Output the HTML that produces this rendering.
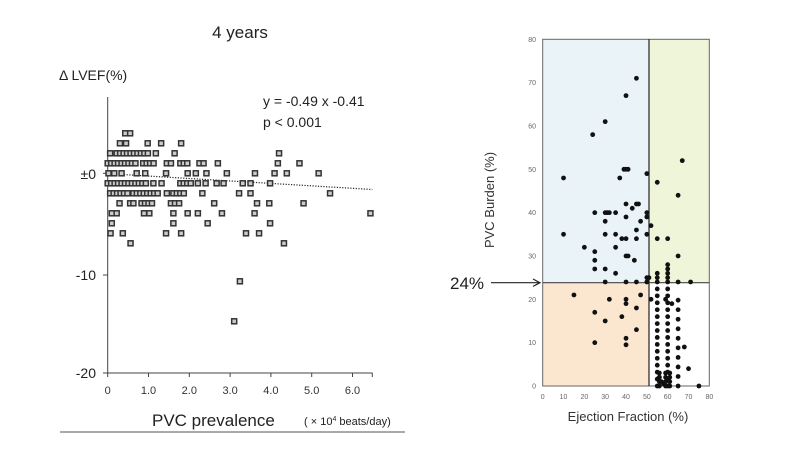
<!DOCTYPE html>
<html><head><meta charset="utf-8"><style>
body{margin:0;background:#fff;width:800px;height:450px;overflow:hidden;font-family:"Liberation Sans",sans-serif}
</style></head><body>
<svg id="s" width="800" height="450" xmlns="http://www.w3.org/2000/svg" font-family="Liberation Sans, sans-serif">
<text x="240" y="38" font-size="17" fill="#222" text-anchor="middle">4 years</text>
<text x="59" y="80" font-size="14" fill="#222">Δ LVEF(%)</text>
<text x="263" y="106" font-size="14" fill="#222">y = -0.49 x -0.41</text>
<text x="263" y="127" font-size="14" fill="#222">p &lt; 0.001</text>
<line x1="107.7" y1="97" x2="107.7" y2="373" stroke="#444" stroke-width="1"/>
<line x1="107.7" y1="373" x2="372.5" y2="373" stroke="#444" stroke-width="1"/>
<g stroke="#444"><line x1="103" y1="173.3" x2="107.7" y2="173.3"/><line x1="103" y1="275" x2="107.7" y2="275"/><line x1="103" y1="373" x2="107.7" y2="373"/></g>
<g font-size="14" fill="#222" text-anchor="end"><text x="96" y="179">±0</text><text x="96" y="280">-10</text><text x="96" y="378">-20</text></g>
<g id="xt" font-size="11" fill="#333" text-anchor="middle"></g>
<line x1="107.7" y1="173.6" x2="372.3" y2="189.5" stroke="#222" stroke-dasharray="1.2,1.5" stroke-width="1.2"/>
<g id="lp" fill="#ccc" stroke="#333" stroke-width="1.5"></g>
<text x="152" y="426" font-size="17" fill="#222">PVC prevalence</text>
<text x="304" y="425" font-size="11" fill="#222">( × 10<tspan font-size="7" dy="-4">4</tspan><tspan dy="4"> beats/day)</tspan></text>
<line x1="60" y1="432" x2="405" y2="432" stroke="#555"/>
<rect x="542.7" y="39.3" width="106.3" height="243.4" fill="#eaf4f8"/>
<rect x="649" y="39.3" width="60.3" height="243.4" fill="#eef5d8"/>
<rect x="542.7" y="282.7" width="106.3" height="103.3" fill="#fbe6d0"/>
<rect x="542.7" y="39.3" width="166.6" height="346.7" fill="none" stroke="#666" stroke-width="1"/>
<line x1="649" y1="39.3" x2="649" y2="386" stroke="#222" stroke-width="1.2"/>
<line x1="542.7" y1="282.7" x2="709.3" y2="282.7" stroke="#444" stroke-width="1.2"/>
<g id="rt" font-size="7" fill="#666"></g>
<g id="rp" fill="#111"></g>
<text transform="translate(494,200) rotate(-90)" font-size="13" fill="#333" text-anchor="middle">PVC Burden (%)</text>
<text x="628" y="421" font-size="13" fill="#333" text-anchor="middle">Ejection Fraction (%)</text>
<text x="450" y="289" font-size="17" fill="#222">24%</text>
<line x1="491" y1="282.7" x2="540" y2="282.7" stroke="#222" stroke-width="1.2"/>
<polyline points="533,279 540,282.7 533,286.4" fill="none" stroke="#222" stroke-width="1.2"/>
</svg>
<script>
const NS="http://www.w3.org/2000/svg";
function el(p,t,a,txt){const e=document.createElementNS(NS,t);for(const k in a)e.setAttribute(k,a[k]);if(txt!==undefined)e.textContent=txt;document.getElementById(p).appendChild(e);}
const xs=["0","1.0","2.0","3.0","4.0","5.0","6.0"];
for(let i=0;i<7;i++){const x=107.7+i*40.8;el("xt","text",{x:x,y:394},xs[i]);el("xt","line",{x1:x,y1:373,x2:x,y2:377,stroke:"#444"});}
el("xt","line",{x1:372.3,y1:373,x2:372.3,y2:377,stroke:"#444"});
function rng(a,b,s){const r=[];for(let v=a;v<=b+1e-6;v+=s)r.push(v);return r;}
const rows={4:[0.43,0.55],3:[0.3,0.45,0.98,1.31,1.8],2:[0.06,...rng(0.22,1.0,0.085),1.18,1.64,4.2],
1:[...rng(0,0.75,0.085),...rng(0.87,1.2,0.085),1.45,1.55,...rng(1.78,2.0,0.085),2.25,2.35,2.7,4.17,4.7],
0:[0.02,0.16,0.34,0.71,0.92,1.43,1.96,2.16,2.42,2.92,3.61,4.09,4.39,5.17],
"-1":[...rng(0,0.95,0.085),1.12,1.32,...rng(1.78,2.06,0.085),2.21,2.4,2.67,2.84,3.31,3.5,3.98],
"-2":[...rng(0.06,0.5,0.085),...rng(0.63,1.24,0.085),1.45,...rng(1.61,1.94,0.085),2.32,3.22,3.5,5.45],
"-3":[0.29,0.55,0.63,...rng(0.83,1.12,0.085),1.55,1.65,1.75,2.61,3.66,3.96,4.8],
"-4":[0.1,0.22,0.89,1.02,1.61,1.96,2.21,2.8,3.6,6.44],"-5":[0.1,1.61,2.45,3.98],
"-6":[0.07,0.37,1.43,1.8,3.39,3.71],"-7":[0.56,4.32]};
const lp=[];for(const k in rows)for(const x of rows[k])lp.push([x,+k]);lp.push([3.24,-10.8],[3.1,-14.8]);
for(const [x,y] of lp){el("lp","rect",{x:107.7+x*40.8-2.5,y:173.3-y*10.0-2.5,width:5,height:5});}
for(let v=0;v<=80;v+=10){el("rt","text",{x:536,y:386-v*4.334+2.5,"text-anchor":"end"},v);el("rt","text",{x:542.7+v*2.083,y:399,"text-anchor":"middle"},v);}
const rp=[[10,48],[10,35],[20,32],[24,58],[25,40],[25,31],[25,29],[25,27],[30,61],[30,40],[31,40],[32,40],[30,38],[30,35],[30,27],[30,24],[35,40],[35,35],[35,32],[35,26],[37,48],[38,34],[39,50],[40,50],[41,50],[40,67],[40,42],[40,39],[40,34],[40,30],[41,30],[40,24],[43,41],[44,29],[45,71],[45,42],[46,42],[45,36],[45,34],[45,24],[47,38],[50,49],[50,40],[50,39],[50,35],[50,25],[50,24],[51,25],
[52,37],[55,47],[55,34],[55,26],[55,25],[60,34],[60,28],[60,27],[60,26],[60,25],[65,44],[65,30],[67,52],[65,24],[71,24],[55,24],[60,24],
[15,21],[25,17],[25,10],[30,15],[32,20],[38,16],[40,20],[40,19],[40,11],[40,9.5],[45,18],[45,13],[47,21],
[52,20],[68,9],[70,4],[75,0],[57,1],[58,0.5],[56,2],[62,19],[59,20]];
for(let b=0;b<=23;b+=1.6){rp.push([55,b]);rp.push([60,b]);}
for(let b=0;b<=20;b+=2.2)rp.push([65,b]);
for(let b=0;b<=3;b+=1)rp.push([56,b],[59,b],[61,b]);
for(const [e,b] of rp)el("rp","circle",{cx:542.7+e*2.083,cy:386-b*4.334,r:2.4});
</script>
</body></html>
